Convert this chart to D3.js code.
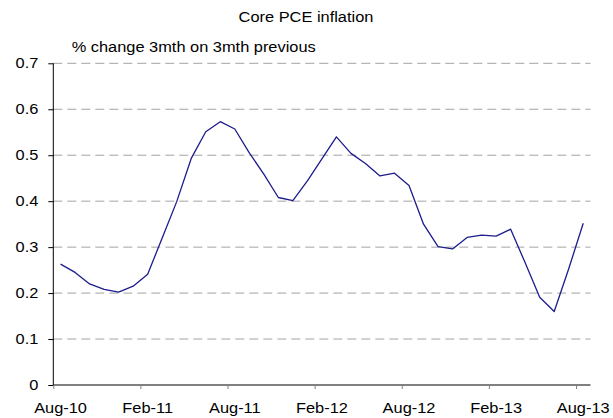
<!DOCTYPE html>
<html>
<head>
<meta charset="utf-8">
<script src="https://cdn.jsdelivr.net/npm/d3@7"></script>
<style>
  body { margin: 0; background: #fff; }
  text { font-family: "Liberation Sans", Arial, sans-serif; fill: #000; }
</style>
</head>
<body>
<div id="chart"></div>
<script>
// months on the category axis
const months = ["Aug-10","Sep-10","Oct-10","Nov-10","Dec-10","Jan-11","Feb-11","Mar-11","Apr-11","May-11",
    "Jun-11","Jul-11","Aug-11","Sep-11","Oct-11","Nov-11","Dec-11","Jan-12","Feb-12","Mar-12",
    "Apr-12","May-12","Jun-12","Jul-12","Aug-12","Sep-12","Oct-12","Nov-12","Dec-12","Jan-13",
    "Feb-13","Mar-13","Apr-13","May-13","Jun-13","Jul-13","Aug-13"];

// core PCE, % change 3mth on 3mth previous
const pce = [0.263,0.245,0.220,0.208,0.202,0.215,0.241,0.320,0.399,0.493,
    0.551,0.573,0.557,0.505,0.459,0.408,0.401,0.444,0.492,0.540,
    0.504,0.482,0.455,0.461,0.434,0.350,0.301,0.296,0.321,0.326,
    0.324,0.339,0.266,0.191,0.160,0.253,0.352];

const xLabels = ["Aug-10","Feb-11","Aug-11","Feb-12","Aug-12","Feb-13","Aug-13"];
const yTicks = [0, 0.1, 0.2, 0.3, 0.4, 0.5, 0.6, 0.7];

document.addEventListener("DOMContentLoaded", () => {

    let width = 613, height = 418;
    let plot = { left: 53.3, right: 590.5, top: 63.3, bottom: 385 };
    const stretch = 1.17; // the original text is a bit wide

    let svg = d3.select("#chart")
                .append("svg")
                .attr("width", width)
                .attr("height", height);

    // widen text the way the original looks
    function widen(sel) {
        sel.each(function() {
            const w = this.getComputedTextLength();
            d3.select(this)
                .attr("textLength", w * stretch)
                .attr("lengthAdjust", "spacingAndGlyphs");
        });
    }

    let x = d3.scaleBand()
                .domain(months)
                .range([plot.left, plot.right])
                .paddingInner(0)
                .paddingOuter(0);

    // index scale for the tick marks between categories
    let xEdge = d3.scaleLinear()
                .domain([0, months.length])
                .range([plot.left, plot.right]);

    let y = d3.scaleLinear()
                .domain([0, 0.7])
                .range([plot.bottom, plot.top]);

    //START gridlines
    svg.append("g")
        .selectAll("line")
        .data(yTicks.filter(d => d > 0))
        .enter()
        .append("line")
        .attr("x1", plot.left)
        .attr("x2", plot.right)
        .attr("y1", d => y(d))
        .attr("y2", d => y(d))
        .style("stroke", "#a3a3a3")
        .style("stroke-width", 1)
        .style("stroke-dasharray", "9,5");
    //END gridlines

    //START bottom axis
    let tickIdx = xLabels.map(m => months.indexOf(m));

    let xTicks = svg.append("g")
        .attr("transform", `translate(0, ${plot.bottom})`)
        .call(d3.axisBottom(xEdge).tickValues(tickIdx).tickSize(4).tickFormat(""));
    xTicks.select(".domain").remove();
    xTicks.selectAll("line").style("stroke", "#808080");

    svg.append("line")
        .attr("x1", plot.left)
        .attr("x2", plot.right)
        .attr("y1", plot.bottom)
        .attr("y2", plot.bottom)
        .style("stroke", "#808080")
        .style("stroke-width", 2);

    let xText = svg.append("g")
        .attr("transform", `translate(0, ${plot.bottom})`)
        .call(d3.axisBottom(x).tickValues(xLabels).tickSize(0).tickPadding(0));
    xText.select(".domain").remove();
    xText.selectAll("text")
        .attr("y", 28)
        .attr("dy", null)
        .style("font-size", "14px")
        .call(widen);
    //END bottom axis

    //START left axis
    let yAxis = svg.append("g")
        .attr("transform", `translate(${plot.left}, 0)`)
        .call(d3.axisLeft(y)
            .tickValues(yTicks)
            .tickSize(5)
            .tickPadding(10)
            .tickFormat(d => d === 0 ? "0" : d.toFixed(1)));
    yAxis.select(".domain")
        .attr("d", `M0,${plot.top}V${plot.bottom}`)
        .style("stroke", "#000");
    yAxis.selectAll("line").style("stroke", "#000");
    yAxis.selectAll("text")
        .style("font-size", "14px")
        .call(widen);
    //END left axis

    //START line
    let line = d3.line()
        .x((d, i) => x(months[i]) + x.bandwidth() / 2)
        .y(d => y(d));

    svg.append("path")
        .datum(pce)
        .attr("d", line)
        .style("fill", "none")
        .style("stroke", "#1c1c8c")
        .style("stroke-width", 1.3)
        .style("stroke-linejoin", "round");
    //END line

    // titles
    svg.append("text")
        .attr("x", 306)
        .attr("y", 21.7)
        .attr("text-anchor", "middle")
        .style("font-size", "14px")
        .text("Core PCE inflation")
        .call(widen);

    svg.append("text")
        .attr("x", 71.7)
        .attr("y", 51.7)
        .style("font-size", "14px")
        .text("% change 3mth on 3mth previous")
        .call(widen);
});
</script>
</body>
</html>
